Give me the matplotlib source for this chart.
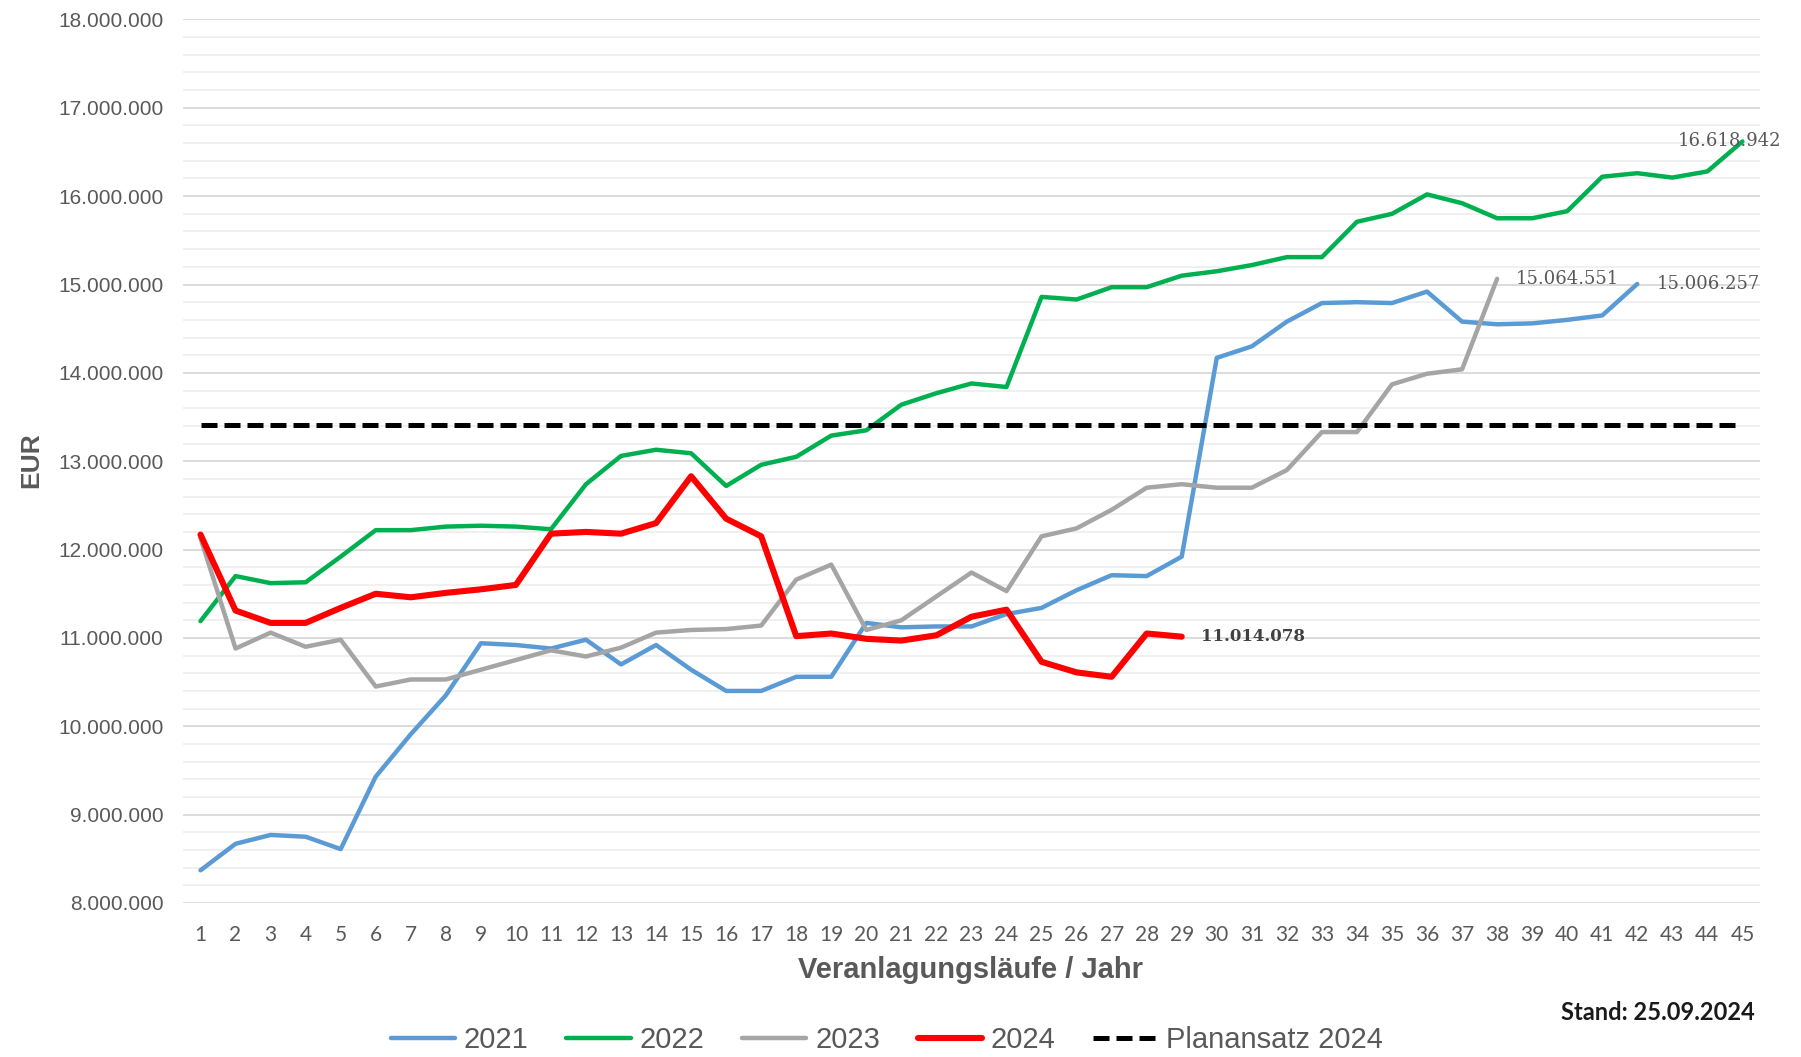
import matplotlib
matplotlib.use("Agg")
import matplotlib.pyplot as plt
from matplotlib.ticker import MultipleLocator, FuncFormatter

# Veranlagungslaeufe (x) and values per year in EUR
laeufe = list(range(1, 46))

v2021 = [8.37, 8.67, 8.77, 8.75, 8.61, 9.43, 9.91, 10.35, 10.94, 10.92,
         10.88, 10.98, 10.70, 10.92, 10.64, 10.40, 10.40, 10.56, 10.56, 11.17,
         11.12, 11.13, 11.13, 11.27, 11.34, 11.54, 11.71, 11.70, 11.92, 14.17,
         14.30, 14.58, 14.79, 14.80, 14.79, 14.92, 14.58, 14.55, 14.56, 14.60,
         14.65, 15.006257]
v2022 = [11.19, 11.70, 11.62, 11.63, 11.92, 12.22, 12.22, 12.26, 12.27, 12.26,
         12.23, 12.74, 13.06, 13.13, 13.09, 12.72, 12.96, 13.05, 13.29, 13.35,
         13.64, 13.77, 13.88, 13.84, 14.86, 14.83, 14.97, 14.97, 15.10, 15.15,
         15.22, 15.31, 15.31, 15.71, 15.80, 16.02, 15.92, 15.75, 15.75, 15.83,
         16.22, 16.26, 16.21, 16.28, 16.618942]
v2023 = [12.13, 10.88, 11.06, 10.90, 10.98, 10.45, 10.53, 10.53, 10.64, 10.75,
         10.86, 10.79, 10.89, 11.06, 11.09, 11.10, 11.14, 11.66, 11.83, 11.09,
         11.20, 11.47, 11.74, 11.53, 12.15, 12.24, 12.45, 12.70, 12.74, 12.70,
         12.70, 12.90, 13.33, 13.33, 13.87, 13.99, 14.04, 15.064551]
v2024 = [12.17, 11.31, 11.17, 11.17, 11.34, 11.50, 11.46, 11.51, 11.55, 11.60,
         12.18, 12.20, 12.18, 12.30, 12.83, 12.35, 12.15, 11.02, 11.05, 10.99,
         10.97, 11.03, 11.24, 11.32, 10.73, 10.61, 10.56, 11.05, 11.014078]
planansatz = 13.41

v2021 = [v * 1e6 for v in v2021]
v2022 = [v * 1e6 for v in v2022]
v2023 = [v * 1e6 for v in v2023]
v2024 = [v * 1e6 for v in v2024]
planansatz = planansatz * 1e6

grey = "#595959"
narrow = ["Liberation Sans Narrow", "Liberation Sans", "DejaVu Sans"]

fig = plt.figure(figsize=(18.01, 10.57), dpi=100)
ax = fig.add_axes([0.1016, 0.1457, 0.8756, 0.8359])

ax.plot(laeufe[:len(v2021)], v2021, color="#5B9BD5", lw=3.2, label="2021", solid_capstyle="round")
ax.plot(laeufe[:len(v2022)], v2022, color="#00B050", lw=3.2, label="2022", solid_capstyle="round")
ax.plot(laeufe[:len(v2023)], v2023, color="#A5A5A5", lw=3.2, label="2023", solid_capstyle="round")
ax.plot(laeufe[:len(v2024)], v2024, color="#FF0000", lw=4.4, label="2024", solid_capstyle="round")
ax.plot([laeufe[0], laeufe[-1]], [planansatz, planansatz], color="black", lw=3.6,
        dashes=(3.2, 1.4), label="Planansatz 2024")

ax.set_xlim(0.5, 45.5)
ax.set_ylim(8e6, 18e6)
ax.set_xticks(laeufe)
ax.yaxis.set_major_locator(MultipleLocator(1e6))
ax.yaxis.set_minor_locator(MultipleLocator(2e5))
ax.yaxis.set_major_formatter(FuncFormatter(lambda v, p: f"{v:,.0f}".replace(",", ".")))

ax.grid(axis="y", which="major", color="#D9D9D9", lw=1.3)
ax.grid(axis="y", which="minor", color="#EFEFEF", lw=1.3)
ax.set_axisbelow(True)
for s in ax.spines.values():
    s.set_visible(False)

ax.tick_params(axis="both", which="both", length=0)
ax.tick_params(axis="y", pad=14, labelsize=15, labelcolor=grey)
ax.tick_params(axis="x", pad=16, labelsize=15, labelcolor=grey)
for t in ax.get_yticklabels():
    t.set_family("Liberation Sans")
for t in ax.get_xticklabels():
    t.set_family("Lato")

# data labels at the last point of each year
ax.annotate("16.618.942", xy=(laeufe[len(v2022) - 1], v2022[-1]), xytext=(-65, 0),
            textcoords="offset pixels", va="center", ha="left",
            fontsize=13, family="DejaVu Serif", color=grey)
ax.annotate("15.064.551", xy=(laeufe[len(v2023) - 1], v2023[-1]), xytext=(19, 0),
            textcoords="offset pixels", va="center", ha="left",
            fontsize=13, family="DejaVu Serif", color=grey)
ax.annotate("15.006.257", xy=(laeufe[len(v2021) - 1], v2021[-1]), xytext=(19, 0),
            textcoords="offset pixels", va="center", ha="left",
            fontsize=13, family="DejaVu Serif", color=grey)
ax.annotate("11.014.078", xy=(laeufe[len(v2024) - 1], v2024[-1]), xytext=(19, 0),
            textcoords="offset pixels", va="center", ha="left",
            fontsize=12, family="DejaVu Serif", fontweight="bold", color="#404040")

fig.text(0.0172, 0.565, "EUR", rotation=90, ha="center", va="center",
         fontsize=19, fontweight="bold", color=grey, family="Liberation Sans")
fig.text(0.539, 0.082, "Veranlagungsläufe / Jahr", ha="center", va="center",
         fontsize=21, fontweight="bold", color=grey, family="Liberation Sans")
fig.text(0.9745, 0.0425, "Stand: 25.09.2024", ha="right", va="center",
         fontsize=17, fontweight="bold", color="#1a1a1a", family="Lato")

leg = fig.legend(loc="center", bbox_to_anchor=(0.4925, 0.016), ncol=5, frameon=False,
                 handlelength=2.2, handletextpad=0.3, columnspacing=1.3,
                 prop={"family": narrow, "size": 21})
for t in leg.get_texts():
    t.set_color(grey)

fig.savefig("out.png", dpi=100)
